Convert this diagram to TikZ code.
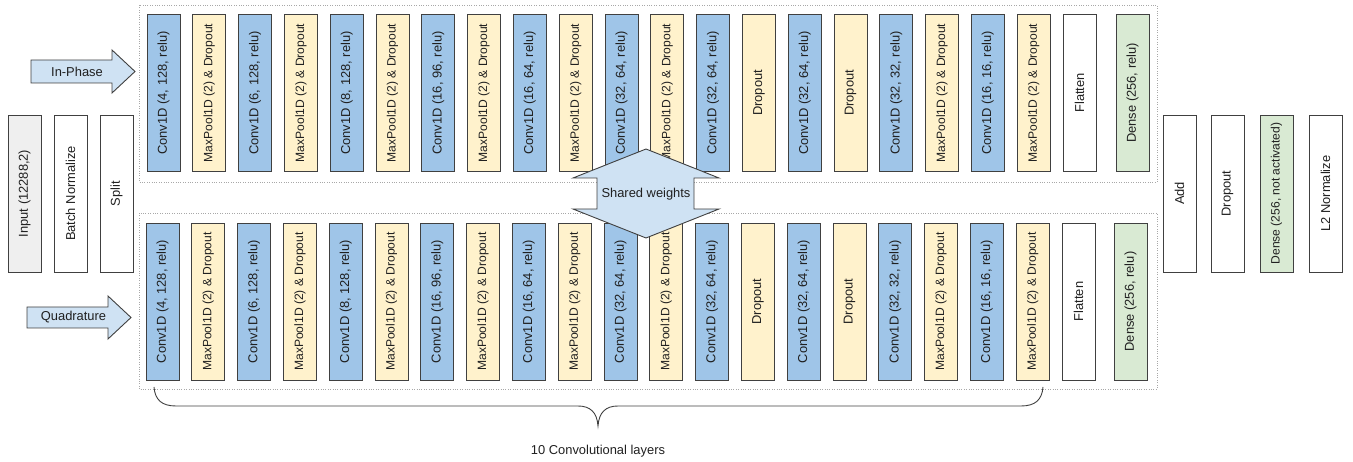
\documentclass[tikz,border=0pt]{standalone}
\usepackage{fontspec}
\setmainfont{Liberation Sans}
\definecolor{convblue}{HTML}{9FC5E8}
\definecolor{poolyellow}{HTML}{FFF2CC}
\definecolor{densegreen}{HTML}{D9EAD3}
\definecolor{inputgray}{HTML}{EFEFEF}
\definecolor{arrowblue}{HTML}{CFE2F3}
\definecolor{edgegray}{HTML}{404040}
\definecolor{txt}{HTML}{202020}
\definecolor{dotgray}{HTML}{A8A8A8}
\tikzset{
  layerbox/.style={draw=edgegray, line width=0.9pt, rotate=90, minimum width=157pt, minimum height=33pt, inner sep=0pt, text=txt, font=\fontsize{12.9}{14}\selectfont},
  convbox/.style={layerbox, fill=convblue},
  poolbox/.style={layerbox, fill=poolyellow, font=\fontsize{12.1}{14}\selectfont},
  dropbox/.style={layerbox, fill=poolyellow},
  whitebox/.style={layerbox, fill=white},
  densebox/.style={layerbox, fill=densegreen},
  graybox/.style={layerbox, fill=inputgray},
  groupframe/.style={draw=dotgray, line width=0.8pt, dash pattern=on 0.8pt off 1.6pt},
  fatarrow/.style={draw=edgegray, line width=0.9pt, fill=arrowblue, line join=miter},
  lbl/.style={text=txt, font=\fontsize{12.9}{14}\selectfont, inner sep=0pt}
}
\begin{document}
\begin{tikzpicture}[x=1pt, y=-1pt]
\useasboundingbox (0,0) rectangle (1353,462);
% group frames
\draw[groupframe] (139,5) rectangle (1157,182);
\draw[groupframe] (139,213) rectangle (1157,389);
% left boxes
\node[graybox] (input) at (24.5,193.5) {Input (12288,2)};
\node[whitebox] (bn) at (70.5,193.5) {Batch Normalize};
\node[whitebox] (split) at (116.5,193.5) {Split};
% right boxes
\node[whitebox] (add) at (1179.5,193.5) {Add};
\node[whitebox] (drop) at (1227.5,193.5) {Dropout};
\node[densebox, font=\fontsize{12.1}{14}\selectfont] (dna) at (1276.5,193.5) {Dense (256, not activated)};
\node[whitebox] (l2) at (1325.5,193.5) {L2 Normalize};
% layer rows
\foreach \i/\s/\t in {
  0/convbox/{Conv1D (4, 128, relu)},
  1/poolbox/{MaxPool1D (2) \& Dropout},
  2/convbox/{Conv1D (6, 128, relu)},
  3/poolbox/{MaxPool1D (2) \& Dropout},
  4/convbox/{Conv1D (8, 128, relu)},
  5/poolbox/{MaxPool1D (2) \& Dropout},
  6/convbox/{Conv1D (16, 96, relu)},
  7/poolbox/{MaxPool1D (2) \& Dropout},
  8/convbox/{Conv1D (16, 64, relu)},
  9/poolbox/{MaxPool1D (2) \& Dropout},
  10/convbox/{Conv1D (32, 64, relu)},
  11/poolbox/{MaxPool1D (2) \& Dropout},
  12/convbox/{Conv1D (32, 64, relu)},
  13/dropbox/{Dropout},
  14/convbox/{Conv1D (32, 64, relu)},
  15/dropbox/{Dropout},
  16/convbox/{Conv1D (32, 32, relu)},
  17/poolbox/{MaxPool1D (2) \& Dropout},
  18/convbox/{Conv1D (16, 16, relu)},
  19/poolbox/{MaxPool1D (2) \& Dropout},
  20/whitebox/{Flatten}}{
  \node[\s] (t\i) at ({163.5+45.8*\i},93) {\t};
  \node[\s] (b\i) at ({162.5+45.8*\i},301.5) {\t};
}
\node[densebox] (tdense) at (1132.5,93) {Dense (256, relu)};
\node[densebox] (bdense) at (1130.5,301.5) {Dense (256, relu)};
% input arrows
\draw[fatarrow] (31,60) -- (112,60) -- (112,50) -- (135,71.5) -- (112,93) -- (112,83) -- (31,83) -- cycle;
\node[lbl] (inphase) at (77,71.5) {In-Phase};
\draw[fatarrow] (27,307) -- (108,307) -- (108,296) -- (131,317.5) -- (108,339) -- (108,328) -- (27,328) -- cycle;
\node[lbl] (quad) at (73.5,317.5) {Quadrature};
% shared weights double arrow
\draw[fatarrow] (646,149) -- (719,178) -- (694,178) -- (694,209) -- (719,209) -- (646,238) -- (573,209) -- (597,209) -- (597,178) -- (573,178) -- cycle;
\node[lbl] (shared) at (646,194) {Shared weights};
% brace
\draw[edgegray, line width=0.9pt] (154,387) .. controls (155,400) and (162,406) .. (176,406) -- (578,406) .. controls (590,406) and (597,412) .. (598,426) .. controls (599,412) and (606,406) .. (618,406) -- (1021,406) .. controls (1035,406) and (1042,400) .. (1043,387);
\node[lbl] (convlayers) at (598,451) {10 Convolutional layers};
\end{tikzpicture}
\end{document}
